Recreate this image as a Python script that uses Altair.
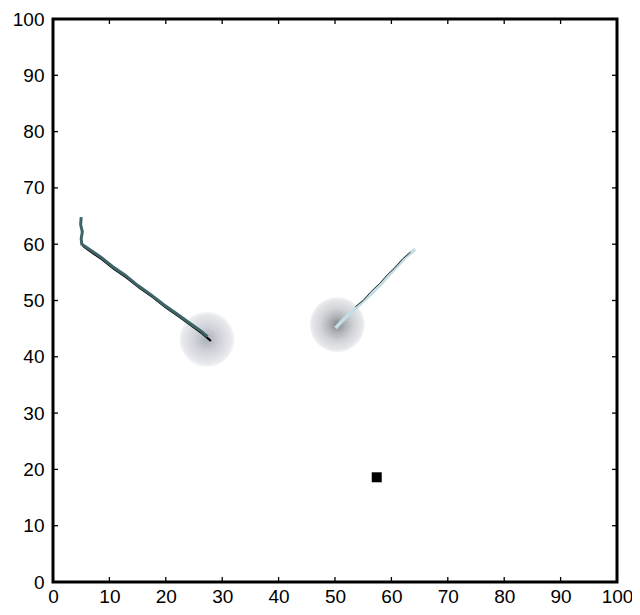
import altair as alt
import pandas as pd

# Track 1 (teal with dark edge)
t1_teal_x = [5.0, 4.9, 5.2, 5.0, 5.1, 6.3, 8.5, 10.6, 12.8, 15.0, 17.4, 19.7, 22.0, 24.2, 26.2, 27.4]
t1_teal_y = [64.8, 63.5, 62.2, 61.0, 60.0, 59.2, 57.7, 56.0, 54.5, 52.7, 51.0, 49.2, 47.6, 46.0, 44.6, 43.6]
t1_black_x = [5.3, 6.5, 8.7, 10.8, 13.0, 15.3, 17.7, 20.0, 22.3, 24.5, 26.5, 28.0]
t1_black_y = [59.7, 58.8, 57.3, 55.6, 54.1, 52.3, 50.6, 48.8, 47.2, 45.6, 44.1, 42.8]
# Track 2 (light blue with dark thread)
t2_light_x = [50.1, 51.5, 53.0, 54.8, 56.5, 58.2, 59.6, 61.0, 62.5, 64.2]
t2_light_y = [45.1, 46.6, 48.0, 49.7, 51.3, 53.0, 54.6, 56.1, 57.7, 59.1]
t2_black_x = [53.6, 55.0, 56.4, 57.9, 59.3, 60.6, 62.0, 63.4]
t2_black_y = [48.9, 50.0, 51.6, 53.0, 54.6, 55.8, 57.4, 58.6]
# Blurred blobs
blob_x = [27.3, 50.4]
blob_y = [43.1, 45.7]
blob_name = ["a", "b"]
# Target square
sq_x = [57.4]
sq_y = [18.6]
ticks = [10, 20, 30, 40, 50, 60, 70, 80, 90]

xs = alt.Scale(domain=[0, 100], nice=False)
ys = alt.Scale(domain=[0, 100], nice=False)
vals = list(range(0, 101, 10))
X = lambda f: alt.X(f, type="quantitative", scale=xs, title=None,
                    axis=alt.Axis(values=vals, ticks=False, domain=False, grid=False,
                                  labelFontSize=19, labelPadding=5, labelColor="black",
                                  labelFont="Liberation Sans", labelFlush=False))
Y = lambda f: alt.Y(f, type="quantitative", scale=ys, title=None,
                    axis=alt.Axis(values=vals, ticks=False, domain=False, grid=False,
                                  labelFontSize=19, labelPadding=9, labelColor="black",
                                  labelFont="Liberation Sans", labelFlush=False))

def grad(stops):
    return alt.Gradient(gradient="radial", x1=0.5, y1=0.5, r1=0, x2=0.5, y2=0.5, r2=0.5,
                        stops=[alt.GradientStop(offset=o, color=c) for o, c in stops])

b = pd.DataFrame({"x": blob_x, "y": blob_y, "n": blob_name})
blob1 = alt.Chart(b[b.n == "a"]).mark_point(
    shape="circle", filled=True, size=3000, opacity=1, strokeWidth=0,
    fill=grad([(0, "#acb0b8"), (0.45, "#cfd2d8"), (0.88, "#e7e8ec"), (1, "#f4f5f7")])
).encode(x=X("x"), y=Y("y"))
blob2 = alt.Chart(b[b.n == "b"]).mark_point(
    shape="circle", filled=True, size=3000, opacity=1, strokeWidth=0,
    fill=grad([(0, "#82868c"), (0.3, "#afb2b7"), (0.6, "#d1d3d7"), (0.9, "#e5e6e9"), (1, "#f3f3f5")])
).encode(x=X("x"), y=Y("y"))

def line(xv, yv, color, w):
    df = pd.DataFrame({"x": xv, "y": yv, "o": list(range(len(xv)))})
    return alt.Chart(df).mark_line(color=color, strokeWidth=w, interpolate="linear").encode(
        x=X("x"), y=Y("y"), order="o:Q")

l1b = line(t1_black_x, t1_black_y, "#000000", 2.2)
l1t = line(t1_teal_x, t1_teal_y, "#3f6468", 3)
l2l = line(t2_light_x, t2_light_y, "#c4dce3", 3.6)
l2b = line(t2_black_x, t2_black_y, "#1a1a1a", 0.9)

sq = alt.Chart(pd.DataFrame({"x": sq_x, "y": sq_y})).mark_point(
    shape="square", filled=True, size=100, color="black", opacity=1).encode(x=X("x"), y=Y("y"))

td = pd.DataFrame({"t": ticks})
tb = alt.Chart(td).mark_rule(color="black", strokeWidth=1.3).encode(
    x=X("t"), y=alt.value(563), y2=alt.value(558))
tt = alt.Chart(td).mark_rule(color="black", strokeWidth=1.3).encode(
    x=X("t"), y=alt.value(0), y2=alt.value(5))
tl = alt.Chart(td).mark_rule(color="black", strokeWidth=1.3).encode(
    y=Y("t"), x=alt.value(0), x2=alt.value(5))
tr = alt.Chart(td).mark_rule(color="black", strokeWidth=1.3).encode(
    y=Y("t"), x=alt.value(564), x2=alt.value(559))

chart = alt.layer(blob1, blob2, l1b, l1t, l2l, l2b, sq, tb, tt, tl, tr).properties(
    width=564, height=563,
    padding={"left": 45, "top": 11, "right": 15, "bottom": 25},
    autosize=alt.AutoSizeParams(type="none"),
    background="white",
).configure_view(stroke="black", strokeWidth=3)

chart.save("out.html", embed_options={"renderer": "svg", "actions": False})
